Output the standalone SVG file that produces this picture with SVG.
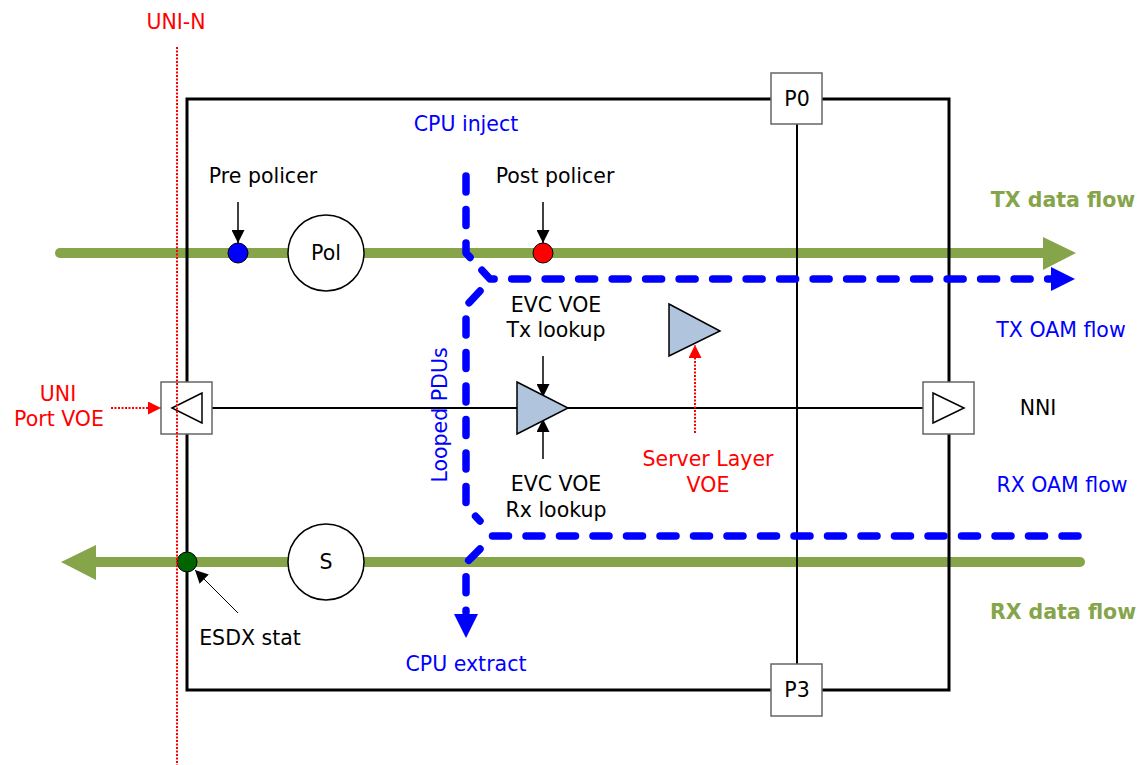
<svg xmlns="http://www.w3.org/2000/svg" width="1143" height="765" viewBox="0 0 1143 765">
<defs>
<style>
text{font-family:"DejaVu Sans","Verdana",sans-serif;font-size:20.5px;text-anchor:middle;fill:#000}
.blue{fill:#0000FF}
.red{fill:#FF0000}
.green{fill:#86A44A;font-weight:bold}
.box{fill:#fff;stroke:#666;stroke-width:1.5}
.voe{fill:#B0C4DE;stroke:#000;stroke-width:1.5;stroke-linejoin:miter}
.flow{stroke:#86A44A;stroke-width:10;stroke-linecap:round;fill:none}
.oam{stroke:#0000FF;stroke-width:7.5;stroke-linecap:round;stroke-dasharray:16 17.5;fill:none;stroke-linejoin:round}
.thin{stroke:#000;stroke-width:1.5;fill:none}
.reddot{stroke:#FF0000;stroke-width:2;stroke-dasharray:2 1.5;fill:none}
</style>
<marker id="ahk" viewBox="0 0 12 12" refX="12" refY="6" markerWidth="13" markerHeight="13" markerUnits="userSpaceOnUse" orient="auto">
<path d="M0,0 L12,6 L0,12 z" fill="#000"/>
</marker>
<marker id="ahr" viewBox="0 0 12 12" refX="12" refY="6" markerWidth="13" markerHeight="13" markerUnits="userSpaceOnUse" orient="auto">
<path d="M0,0 L12,6 L0,12 z" fill="#FF0000"/>
</marker>
</defs>
<rect width="1143" height="765" fill="#fff"/>

<g id="connectors">
<path class="flow" d="M60,253 H1048"/>
<polygon points="1043,237 1076,253 1043,270" fill="#86A44A"/>
<path class="flow" d="M1080,562 H92"/>
<polygon points="96,545 61,562 96,580" fill="#86A44A"/>

<rect x="187" y="99" width="762" height="591" fill="none" stroke="#000" stroke-width="3"/>
<line x1="797" y1="124" x2="797" y2="664" stroke="#000" stroke-width="2"/>
<line x1="212" y1="408" x2="923" y2="408" stroke="#000" stroke-width="2"/>

<path class="oam" d="M466,176 V253 L490,279 H1052"/>
<polygon points="1051,267 1075,279 1051,291" fill="#0000FF"/>
<path class="oam" d="M480,291 L466,306 V506 L480,521"/>
<path class="oam" d="M1078,536 H490"/>
<path class="oam" d="M480,549 L466,563 V612"/>
<polygon points="454,614 466,638 478,614" fill="#0000FF"/>

<line x1="238" y1="202" x2="238" y2="243" class="thin" marker-end="url(#ahk)"/>
<line x1="543" y1="202" x2="543" y2="243" class="thin" marker-end="url(#ahk)"/>
<line x1="543" y1="356" x2="543" y2="397" class="thin" marker-end="url(#ahk)"/>
<line x1="543" y1="459" x2="543" y2="419" class="thin" marker-end="url(#ahk)"/>
<line x1="238" y1="613" x2="195" y2="570" stroke="#000" stroke-width="1" marker-end="url(#ahk)"/>
<line x1="111" y1="408" x2="161" y2="408" class="reddot" marker-end="url(#ahr)"/>
<line x1="695" y1="433" x2="695" y2="345" class="reddot" marker-end="url(#ahr)"/>
</g>

<g id="pre-policer"><circle cx="238" cy="253" r="10" fill="#0000FF" stroke="#000" stroke-width="1"/><text x="263" y="183">Pre policer</text></g>
<g id="post-policer"><circle cx="543" cy="253" r="10" fill="#FF0000" stroke="#000" stroke-width="1"/><text x="555" y="183">Post policer</text></g>
<g id="pol"><circle cx="326" cy="253" r="38" fill="#fff" stroke="#000" stroke-width="1.5"/><text x="326" y="260">Pol</text></g>
<g id="s"><circle cx="326" cy="562" r="38" fill="#fff" stroke="#000" stroke-width="1.5"/><text x="326" y="569">S</text></g>
<g id="esdx"><circle cx="187" cy="562" r="10" fill="#006400" stroke="#000" stroke-width="1"/><text x="250" y="645">ESDX stat</text></g>

<g id="p0"><rect class="box" x="771" y="73" width="51" height="51"/><text x="797" y="106">P0</text></g>
<g id="p3"><rect class="box" x="771" y="664" width="51" height="52"/><text x="797" y="697">P3</text></g>

<g id="uni-port-voe"><rect class="box" x="161" y="382" width="51" height="52"/><polygon points="172,408 202,393 202,423" fill="#fff" stroke="#000" stroke-width="1.5"/>
<text class="red" x="58" y="401">UNI</text><text class="red" x="59" y="426">Port VOE</text></g>
<g id="nni"><rect class="box" x="923" y="382" width="51" height="52"/><polygon points="933,393 964,408 933,423" fill="#fff" stroke="#000" stroke-width="1.5"/><text x="1038" y="415">NNI</text></g>

<g id="evc-voe"><polygon class="voe" points="517,382 568,408 517,434"/>
<text x="556" y="312">EVC VOE</text><text x="556" y="337">Tx lookup</text>
<text x="556" y="491">EVC VOE</text><text x="556" y="517">Rx lookup</text></g>
<g id="server-layer-voe"><polygon class="voe" points="669,304 720,331 669,356"/>
<text class="red" x="708" y="466">Server Layer</text><text class="red" x="708" y="492">VOE</text></g>

<g id="uni-n"><line x1="177" y1="47" x2="177" y2="765" class="reddot" stroke-width="1.5"/><text class="red" x="176" y="29">UNI-N</text></g>

<g id="labels">
<text class="blue" x="466" y="131">CPU inject</text>
<text class="blue" x="466" y="671">CPU extract</text>
<text class="blue" transform="translate(447,415) rotate(-90)" x="0" y="0">Looped PDUs</text>
<text class="green" x="1063" y="207">TX data flow</text>
<text class="blue" x="1061" y="337">TX OAM flow</text>
<text class="blue" x="1062" y="492">RX OAM flow</text>
<text class="green" x="1063" y="619">RX data flow</text>
</g>
</svg>
